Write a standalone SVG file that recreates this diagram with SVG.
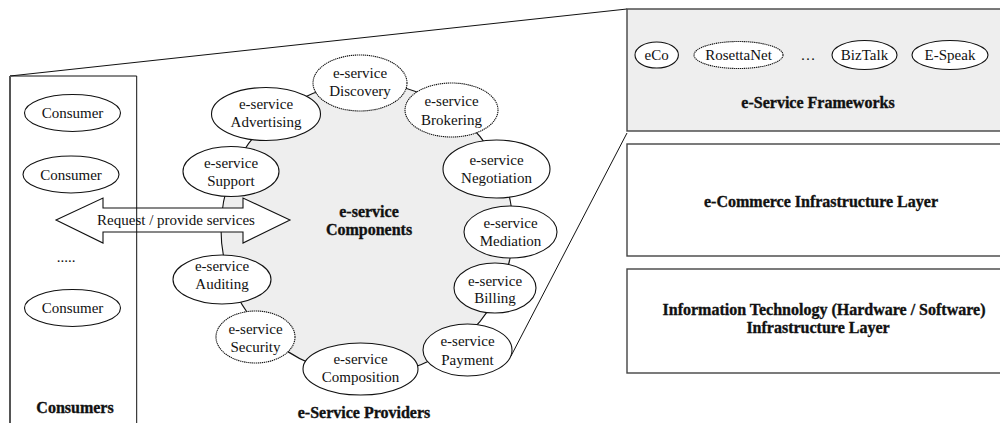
<svg xmlns="http://www.w3.org/2000/svg" width="1000" height="423" viewBox="0 0 1000 423">
<style>
text{font-family:"Liberation Serif","Times New Roman",serif;font-size:15px;fill:#111;text-anchor:middle}
.b{font-size:16px;font-weight:bold;stroke:#111;stroke-width:0.35}
.el{fill:#fff;stroke:#111;stroke-width:1.1}
.dot{stroke-dasharray:1.3 0.7}
.box{stroke:#444;stroke-width:1.4}
.ln{fill:none;stroke:#111;stroke-width:1}
</style>
<rect width="1000" height="423" fill="#fff"/>

<g id="connectors">
<path class="ln" d="M10,76 L627,9"/>
<path class="ln" d="M627,133 L602,181 L511,356"/>
</g>

<g id="components">
<circle cx="367" cy="229" r="146" fill="#eeeeee" stroke="#111" stroke-width="1.1"/>
<text class="b" x="369" y="217">e-service</text>
<text class="b" x="369" y="235">Components</text>
</g>

<g id="adv"><ellipse class="el" cx="266" cy="114" rx="54.5" ry="26.5"/><text x="266" y="109">e-service</text><text x="266" y="127">Advertising</text></g>
<g id="disc"><ellipse class="el dot" cx="360" cy="83" rx="47" ry="28"/><text x="360" y="78">e-service</text><text x="360" y="96">Discovery</text></g>
<g id="brok"><ellipse class="el dot" cx="451.5" cy="110" rx="46.5" ry="27"/><text x="451.5" y="106">e-service</text><text x="451.5" y="125">Brokering</text></g>
<g id="nego"><ellipse class="el" cx="496.5" cy="169" rx="53.5" ry="29"/><text x="496.5" y="165">e-service</text><text x="496.5" y="183">Negotiation</text></g>
<g id="medi"><ellipse class="el" cx="510.5" cy="232" rx="46.5" ry="26"/><text x="510.5" y="228">e-service</text><text x="510.5" y="246">Mediation</text></g>
<g id="bill"><ellipse class="el" cx="495" cy="288" rx="41" ry="25"/><text x="495" y="286">e-service</text><text x="495" y="303">Billing</text></g>
<g id="pay"><ellipse class="el" cx="467.5" cy="350" rx="44.5" ry="26"/><text x="467.5" y="346">e-service</text><text x="467.5" y="365">Payment</text></g>
<g id="comp"><ellipse class="el" cx="360.5" cy="369" rx="57.5" ry="26"/><text x="360.5" y="364">e-service</text><text x="360.5" y="382">Composition</text></g>
<g id="secu"><ellipse class="el dot" cx="255.5" cy="337" rx="39.5" ry="26"/><text x="255.5" y="334">e-service</text><text x="255.5" y="352">Security</text></g>
<g id="audi"><ellipse class="el" cx="222" cy="279.5" rx="49" ry="24.5"/><text x="222" y="271">e-service</text><text x="222" y="289">Auditing</text></g>
<g id="supp"><ellipse class="el" cx="231" cy="171.5" rx="48" ry="25"/><text x="231" y="168">e-service</text><text x="231" y="186">Support</text></g>

<g id="providers-label"><text class="b" x="364" y="418">e-Service Providers</text></g>

<g id="request-arrow">
<polygon points="56,220 103,198 103,208 243,208 243,198 290,220 243,243 243,232 103,232 103,243" fill="#fff" stroke="#111" stroke-width="1.1"/>
<text x="176" y="225">Request / provide services</text>
</g>

<g id="consumers">
<path d="M10,76 L136.7,76 L136.7,423" fill="none" stroke="#111" stroke-width="1"/>
<path d="M10,76 L10,423" fill="none" stroke="#555" stroke-width="2"/>
<g id="consumer1"><ellipse class="el" cx="72.5" cy="113" rx="48" ry="18.5"/><text x="72.5" y="118">Consumer</text></g>
<g id="consumer2"><ellipse class="el" cx="71" cy="174.5" rx="48" ry="18.5"/><text x="71" y="180">Consumer</text></g>
<text x="66" y="262">.....</text>
<g id="consumer3"><ellipse class="el" cx="72.5" cy="308" rx="48" ry="18.5"/><text x="72.5" y="313">Consumer</text></g>
<text class="b" x="75" y="413">Consumers</text>
</g>

<g id="frameworks">
<rect class="box" x="627" y="9" width="390" height="122" fill="#eeeeee"/>
<g id="eco"><ellipse class="el" cx="656.7" cy="55" rx="21.7" ry="13"/><text x="656.7" y="60">eCo</text></g>
<g id="rosettanet"><ellipse class="el dot" cx="738.5" cy="55" rx="44.5" ry="13.5"/><text x="738.5" y="60">RosettaNet</text></g>
<text x="808" y="60">…</text>
<g id="biztalk"><ellipse class="el" cx="864.5" cy="55" rx="32.5" ry="14.5"/><text x="864.5" y="60">BizTalk</text></g>
<g id="espeak"><ellipse class="el" cx="950" cy="55" rx="38" ry="14.5"/><text x="950" y="60">E-Speak</text></g>
<text class="b" x="818" y="108">e-Service Frameworks</text>
</g>

<g id="ecommerce">
<rect class="box" x="627" y="144" width="390" height="112" fill="#fff"/>
<text class="b" x="821" y="207">e-Commerce Infrastructure Layer</text>
</g>

<g id="it-layer">
<rect class="box" x="627" y="269" width="390" height="104" fill="#fff"/>
<text class="b" x="824" y="315">Information Technology (Hardware / Software)</text>
<text class="b" x="818" y="333">Infrastructure Layer</text>
</g>
</svg>
